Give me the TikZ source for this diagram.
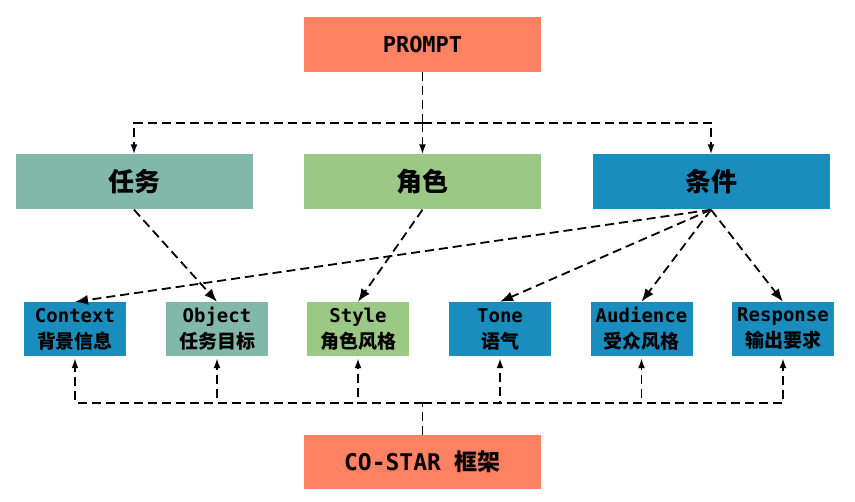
\documentclass[tikz,border=0pt]{standalone}
\usepackage{fontspec}
\setmonofont{DejaVu Sans Mono}
\newfontfamily\cjk{Noto Sans CJK SC}
\usetikzlibrary{arrows.meta}
\definecolor{salmon}{HTML}{FF8163}
\definecolor{teal}{HTML}{82B8A9}
\definecolor{lgreen}{HTML}{9CC886}
\definecolor{cblue}{HTML}{1A8DBF}
\begin{document}
\begin{tikzpicture}[x=1pt,y=-1pt,
  topbox/.style={rectangle,minimum width=237pt,minimum height=55pt,inner sep=0pt},
  subbox/.style={rectangle,minimum width=102pt,minimum height=54pt,inner sep=0pt,align=center,font=\fontsize{19}{26}\selectfont\bfseries},
  dline/.style={line width=1.8pt,dash pattern=on 9pt off 5pt,black},
  tipA/.style={-{Latex[length=10pt,width=7pt]}},
  tipB/.style={-{Latex[length=13pt,width=10pt]}}]
\useasboundingbox (0,0) rectangle (855,502);
\node[topbox,fill=salmon] (prompt) at (422.5,44.5) {\ttfamily\bfseries\fontsize{22}{26}\selectfont PROMPT};
\node[topbox,fill=teal] (task) at (134,182) {\cjk\bfseries\fontsize{26}{28}\selectfont 任务};
\node[topbox,fill=lgreen] (role) at (422.5,182) {\cjk\bfseries\fontsize{26}{28}\selectfont 角色};
\node[topbox,fill=cblue] (cond) at (711,182) {\cjk\bfseries\fontsize{26}{28}\selectfont 条件};
\node[topbox,fill=salmon,minimum height=54pt] (costar) at (422.5,462) {\ttfamily\bfseries\fontsize{23}{26}\selectfont CO-STAR\ {\cjk\bfseries 框架}};

\node[subbox,fill=cblue] (context) at (75,329) {{\ttfamily Context}\\{\cjk 背景信息}};
\node[subbox,fill=teal] (object) at (217,329) {{\ttfamily Object}\\{\cjk 任务目标}};
\node[subbox,fill=lgreen] (style) at (358,329) {{\ttfamily Style}\\{\cjk 角色风格}};
\node[subbox,fill=cblue] (tone) at (500,329) {{\ttfamily Tone}\\{\cjk 语气}};
\node[subbox,fill=cblue] (audience) at (641.5,329) {{\ttfamily Audience}\\{\cjk 受众风格}};
\node[subbox,fill=cblue] (response) at (783,329) {{\ttfamily Response}\\{\cjk 输出要求}};

\coordinate (jtop) at (422.5,123);
\coordinate (jbot) at (422.5,403);

\draw[dline] (prompt.south) -- (jtop);
\draw[dline,tipA] (jtop) -| (task.north);
\draw[dline,tipA] (jtop) -- (role.north);
\draw[dline,tipA] (jtop) -| (cond.north);

\draw[dline,tipB] (task.south) -- (object.north);
\draw[dline,tipB] (role.south) -- (style.north);
\draw[dline,tipB] (cond.south) -- (context.north);
\draw[dline,tipB] (cond.south) -- (tone.north);
\draw[dline,tipB] (cond.south) -- (audience.north);
\draw[dline,tipB] (cond.south) -- (response.north);

\draw[dline] (costar.north) -- (jbot);
\foreach \n in {context,object,style,tone,audience,response}
  \draw[dline,tipA,shorten >=2pt] (jbot) -| (\n.south);
\end{tikzpicture}
\end{document}
